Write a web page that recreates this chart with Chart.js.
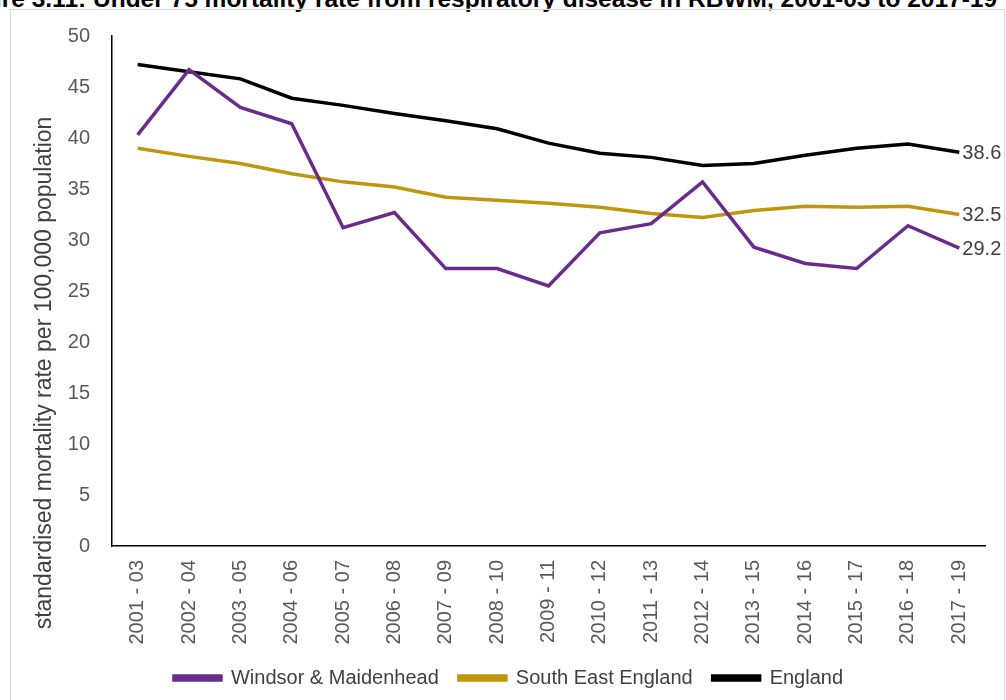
<!DOCTYPE html>
<html>
<head>
<meta charset="utf-8">
<script src="https://cdn.jsdelivr.net/npm/chart.js@4"></script>
<style>
  html, body { margin: 0; padding: 0; background: #fff; overflow: hidden; }
  body { width: 1006px; height: 700px; position: relative; font-family: "Liberation Sans", Arial, sans-serif; }
  #title { position: absolute; left: -50px; top: -13px; white-space: nowrap; font-weight: bold; font-size: 24.5px; line-height: 24.5px; color: #000; }
  #frame { position: absolute; left: 10px; top: 9px; width: 993px; height: 700px; border: 1px solid #d9d9d9; box-shadow: 0 0 2px #eee; }
  #wrap { position: absolute; left: 0; top: 0; width: 1006px; height: 700px; }
</style>
</head>
<body>
<div id="title">Figure 3.11: Under 75 mortality rate from respiratory disease in RBWM, 2001-03 to 2017-19</div>
<div id="frame"></div>
<div id="wrap"><canvas id="chart"></canvas></div>
<script>
// periodes (moyennes sur 3 ans)
const periodes = ['2001 - 03', '2002 - 04', '2003 - 05', '2004 - 06', '2005 - 07', '2006 - 08',
  '2007 - 09', '2008 - 10', '2009 - 11', '2010 - 12', '2011 - 13', '2012 - 14', '2013 - 15',
  '2014 - 16', '2015 - 17', '2016 - 18', '2017 - 19'];

// taux standardises pour 100 000 habitants
const windsor = [40.3, 46.7, 43.0, 41.4, 31.2, 32.7, 27.2, 27.2, 25.5, 30.7, 31.6, 35.7, 29.3, 27.7, 27.2, 31.4, 29.2];
const southEast = [39.0, 38.2, 37.5, 36.5, 35.7, 35.2, 34.2, 33.9, 33.6, 33.2, 32.6, 32.2, 32.9, 33.3, 33.2, 33.3, 32.5];
const england = [47.2, 46.5, 45.8, 43.9, 43.2, 42.4, 41.7, 40.9, 39.5, 38.5, 38.1, 37.3, 37.5, 38.3, 39.0, 39.4, 38.6];

const yTicks = [0, 5, 10, 15, 20, 25, 30, 35, 40, 45, 50];
const titreY = 'standardised mortality rate per 100,000 population';

const police = '"Liberation Sans", Arial, sans-serif';

// etiquette de la derniere valeur a droite de chaque courbe + titre de l'axe Y
const etiquettesFin = {
  id: 'etiquettesFin',
  afterDatasetsDraw(chart) {
    const ctx = chart.ctx;
    ctx.save();
    ctx.font = '20px ' + police;
    ctx.fillStyle = '#404040';
    ctx.textBaseline = 'middle';
    ctx.textAlign = 'left';
    chart.data.datasets.forEach((ds, i) => {
      const meta = chart.getDatasetMeta(i);
      const pt = meta.data[meta.data.length - 1];
      const val = ds.data[ds.data.length - 1];
      ctx.fillText(val.toFixed(1), pt.x + 3, pt.y + 1);
    });
    ctx.restore();

    // titre Y (decale vers le bas comme dans Excel)
    ctx.save();
    ctx.font = '23px ' + police;
    ctx.fillStyle = '#404040';
    ctx.textAlign = 'center';
    ctx.textBaseline = 'middle';
    ctx.translate(45, 373);
    ctx.rotate(-Math.PI / 2);
    ctx.fillText(titreY, 0, 0);
    ctx.restore();
  }
};

new Chart(document.getElementById('chart'), {
  type: 'line',
  data: {
    labels: periodes,
    datasets: [
      { label: 'Windsor & Maidenhead', data: windsor, borderColor: '#6a2c8c', backgroundColor: '#6a2c8c' },
      { label: 'South East England', data: southEast, borderColor: '#bf960c', backgroundColor: '#bf960c' },
      { label: 'England', data: england, borderColor: '#000000', backgroundColor: '#000000' }
    ]
  },
  options: {
    responsive: true,
    maintainAspectRatio: false,
    animation: false,
    elements: {
      line: { borderWidth: 3.5, tension: 0 },
      point: { radius: 0 }
    },
    layout: { padding: { left: 32, right: 21, top: 36, bottom: 2 } },
    plugins: {
      legend: {
        position: 'bottom',
        labels: {
          font: { family: police, size: 20 },
          color: '#404040',
          boxWidth: 47,
          boxHeight: 4,
          padding: 20
        }
      },
      tooltip: { enabled: false }
    },
    scales: {
      x: {
        offset: true,
        grid: { display: false, offset: true },
        border: { display: true, color: '#000', width: 1.5 },
        afterFit: (axis) => { axis.height = 102; },
        ticks: {
          font: { family: police, size: 20 },
          color: '#595959',
          minRotation: 90,
          maxRotation: 90,
          autoSkip: false,
          padding: 6
        }
      },
      y: {
        min: 0,
        max: 50,
        afterBuildTicks: (axis) => { axis.ticks = yTicks.map(v => ({ value: v })); },
        afterFit: (axis) => { axis.width = 80; },
        grid: { display: false },
        border: { display: true, color: '#000', width: 1.5 },
        ticks: {
          font: { family: police, size: 20 },
          color: '#595959',
          padding: 14
        }
      }
    }
  },
  plugins: [etiquettesFin]
});
</script>
</body>
</html>
